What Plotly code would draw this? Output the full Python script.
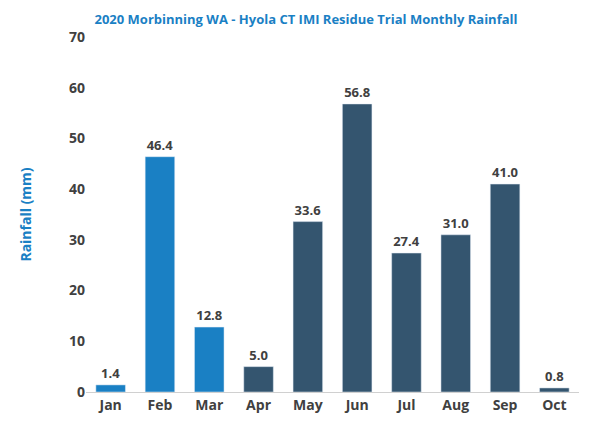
import plotly.graph_objects as go

months = ["Jan","Feb","Mar","Apr","May","Jun","Jul","Aug","Sep","Oct"]
rain = [1.4,46.4,12.8,5.0,33.6,56.8,27.4,31.0,41.0,0.8]
colors = ["#1a80c4"]*3 + ["#34556f"]*7

fig = go.Figure(go.Bar(x=months, y=rain, marker_color=colors, width=0.6,
    text=[f"<b>{v:.1f}</b>" for v in rain], textposition="outside",
    textfont=dict(size=13, color="#404040", family="Open Sans"), cliponaxis=False))
fig.update_layout(
    width=596, height=436, plot_bgcolor="white", paper_bgcolor="white",
    margin=dict(l=78, r=25, t=29, b=52),
    title=dict(text="<b>2020 Morbinning WA - Hyola CT IMI Residue Trial Monthly Rainfall</b>",
               x=0.5, xanchor="center", y=0.985, yanchor="top",
               font=dict(size=13, color="#1a80c4", family="Open Sans")),
    font=dict(family="Open Sans", color="#404040"),
    showlegend=False,
)
fig.update_xaxes(showline=True, linecolor="#d0d0d0", linewidth=1,
                 tickfont=dict(size=14, color="#404040"), ticks="",
                 tickprefix="<b>", ticksuffix="</b>")
fig.update_yaxes(range=[0,70], dtick=10, showgrid=False, zeroline=False,
                 tickfont=dict(size=14, color="#404040"),
                 tickprefix="<b>", ticksuffix="</b>",
                 title=dict(text="<b>Rainfall (mm)</b>", font=dict(size=14, color="#1a80c4"), standoff=34))
fig.write_html("out.html")
